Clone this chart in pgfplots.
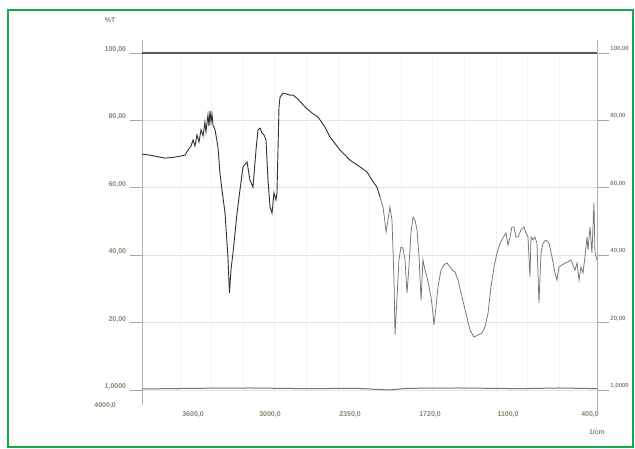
\documentclass[border=0pt]{standalone}
\usepackage{pgfplots}
\pgfplotsset{compat=1.18}
\usepackage{fontspec}
\setmainfont{Liberation Sans}
\definecolor{frame}{RGB}{20,170,70}
\definecolor{lab}{RGB}{135,135,115}
\begin{document}
\begin{tikzpicture}[x=1pt,y=1pt]
\path[use as bounding box] (0,0) rectangle (381,268.8);
\fill[white] (0,0) rectangle (381,268.8);
\draw[frame, line width=1.3pt] (4.8,0.4) rectangle (379.6,262.8);
\begin{axis}[
  at={(85.2pt,34.8pt)}, anchor=south west,
  scale only axis, width=273pt, height=202.2pt,
  xmin=400, xmax=4000, x dir=reverse,
  ymin=0, ymax=100, clip=false,
  axis line style={draw=none},
  /pgf/number format/assume math mode=true,
  xtick={3596,2987,2354,1721,1104,455},
  xticklabels={{3600,0},{3000,0},{2350,0},{1720,0},{1100,0},{400,0}},
  xtick style={draw=none},
  xticklabel style={font=\fontsize{4.2}{5}\selectfont\bfseries, text=lab, yshift=-2.5pt},
  ytick={0,20,40,60,80,100},
  yticklabels={{1,0000},{20,00},{40,00},{60,00},{80,00},{100,00}},
  ytick pos=both, yticklabel pos=left,
  tick align=outside, major tick length=7pt,
  ytick style={draw=gray!70, line width=0.5pt},
  yticklabel style={font=\fontsize{4.2}{5}\selectfont\bfseries, text=lab, yshift=2pt, xshift=1pt},
  ymajorgrids, major grid style={gray!22, line width=0.4pt},
  extra x ticks={3700,3450,3200,2950,2700,2450,2200,1950,1700,1450,1200,950,700},
  extra x tick labels={},
  extra x tick style={grid=major, major grid style={gray!10, line width=0.4pt}, tick style={draw=none}},
]
% axis frame lines
\draw[gray!60, line width=0.5pt] (axis cs:4000,-4.5) -- (axis cs:4000,104);
\draw[gray!60, line width=0.5pt] (axis cs:400,-6.5) -- (axis cs:400,104);
\draw[black!65, line width=0.7pt] (axis cs:4000,100) -- (axis cs:400,100);
% baseline
\addplot[black!55, line width=0.6pt] coordinates {
(4000,0.3) (3600,0.5) (3150,0.6) (2700,0.4) (2300,0.5) (2050,0.0) (1900,0.5) (1500,0.6) (1000,0.4) (700,0.6) (400,0.4)};
% spectrum, first part
\addplot[black!80, line width=0.55pt] coordinates {
(4000,70.0) (3937,69.7) (3858,69.1) (3818,68.8) (3739,69.1) (3660,69.7)
(3636,71.2) (3612,72.4) (3596,74.2) (3581,72.4) (3565,75.7) (3549,73.6)
(3533,77.2) (3517,75.4) (3502,79.5) (3494,76.6) (3478,81.6) (3470,78.3)
(3462,82.8) (3454,79.5) (3446,81.9) (3438,78.6) (3422,77.2) (3399,72.1)
(3383,64.4) (3367,59.3) (3343,52.5) (3320,39.5) (3308,28.8) (3296,35.6)
(3280,40.7) (3248,52.5) (3225,59.3) (3201,66.2) (3169,67.7) (3146,62.3)
(3122,60.2) (3098,71.2) (3082,77.2) (3066,77.7) (3051,76.3) (3035,75.7)
(3019,74.2) (3003,62.3) (2987,54.3) (2971,52.5) (2956,58.5) (2940,56.4)
(2932,58.5) (2924,71.2) (2916,84.0) (2908,86.9) (2884,88.1) (2829,87.5)
(2805,87.5) (2774,86.6) (2710,84.0) (2655,82.2) (2607,81.0) (2552,78.0)
(2513,75.1) (2433,71.2) (2354,68.2) (2275,66.2) (2220,64.7) (2180,62.3)
(2141,60.2) (2117,57.3)};
% spectrum, second part
\addplot[black!55, line width=0.45pt] coordinates {
(2117,57.3) (2093,54.3) (2077,49.6) (2069,46.9) (2054,50.4) (2038,54.3)
(2022,50.4) (2006,32.6) (1998,16.3) (1982,27.6) (1967,38.6) (1951,42.4)
(1935,42.1) (1919,38.6) (1903,28.8) (1888,36.5) (1872,46.6) (1856,51.3)
(1840,50.4) (1824,47.5) (1808,39.5) (1792,26.7) (1777,38.6) (1761,35.6)
(1745,33.5) (1729,30.6) (1713,27.6) (1698,22.8) (1690,19.3) (1674,24.6)
(1658,30.6) (1634,35.6) (1611,37.1) (1587,37.7) (1563,36.5) (1547,35.6)
(1523,35.0) (1500,32.6) (1468,27.6) (1437,22.8) (1405,17.8) (1373,15.7)
(1342,16.3) (1310,16.9) (1286,18.7) (1262,22.8) (1239,30.6) (1215,36.5)
(1191,40.7) (1167,43.6) (1144,45.1) (1120,46.6) (1104,43.0) (1088,45.4)
(1073,48.4) (1057,48.4) (1041,45.4) (1025,45.4) (1001,47.5) (978,48.4)
(962,46.6) (946,45.4) (930,33.5) (922,45.4) (906,44.5) (891,45.4)
(875,43.6) (859,25.8) (843,40.7) (827,43.6) (804,44.5) (780,43.6)
(756,39.5) (732,34.7) (717,32.6) (701,36.5) (677,37.1) (653,37.7)
(630,38.0) (606,38.6) (590,37.1) (574,35.6) (558,37.7) (542,32.6)
(527,36.5) (511,34.7) (495,39.5) (479,45.4) (471,41.5) (455,48.4)
(440,40.7) (424,55.5) (416,40.7) (400,38.6)};
% right tick labels
\begin{scope}[font=\fontsize{3.6}{4}\selectfont\bfseries, text=lab]
\node[anchor=west, inner sep=0.5pt] at (rel axis cs:1.027,0.012) {1,0000};
\node[anchor=west, inner sep=0.5pt] at (rel axis cs:1.027,0.212) {20,00};
\node[anchor=west, inner sep=0.5pt] at (rel axis cs:1.027,0.412) {40,00};
\node[anchor=west, inner sep=0.5pt] at (rel axis cs:1.027,0.612) {60,00};
\node[anchor=west, inner sep=0.5pt] at (rel axis cs:1.027,0.812) {80,00};
\node[anchor=west, inner sep=0.5pt] at (rel axis cs:1.027,1.012) {100,00};
\end{scope}
\begin{scope}[font=\fontsize{4.2}{5}\selectfont\bfseries, text=lab]
\node at (rel axis cs:-0.081,-0.045) {4000,0};
\node at (rel axis cs:-0.07,1.098) {\%T};
\node at (rel axis cs:1.0,-0.125) {1/cm};
\end{scope}
\end{axis}
\end{tikzpicture}
\end{document}
